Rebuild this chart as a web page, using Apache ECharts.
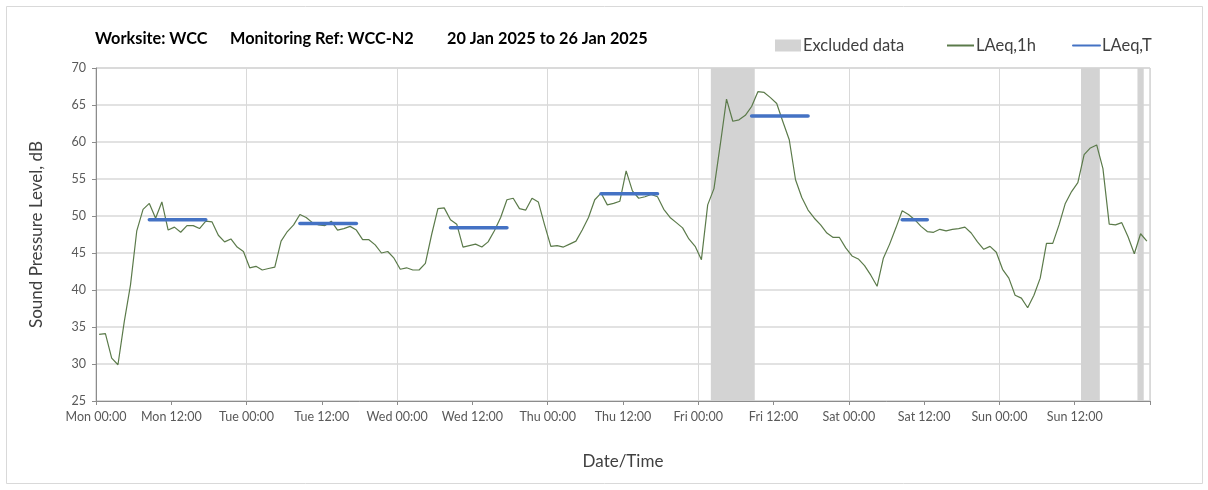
<!DOCTYPE html>
<html>
<head>
<meta charset="utf-8">
<script src="https://cdn.jsdelivr.net/npm/echarts@6/dist/echarts.min.js"></script>
<style>
html,body{margin:0;padding:0;background:#fff;}
#chart{width:1208px;height:490px;}
</style>
</head>
<body>
<div id="chart"></div>
<script>
// Tick labels every 12 hours (hour 0 .. 156)
const tickLabels = ['Mon 00:00','Mon 12:00','Tue 00:00','Tue 12:00','Wed 00:00','Wed 12:00',
  'Thu 00:00','Thu 12:00','Fri 00:00','Fri 12:00','Sat 00:00','Sat 12:00','Sun 00:00','Sun 12:00'];

// Title parts
const titleParts = ['Worksite: WCC', 'Monitoring Ref: WCC-N2', '20 Jan 2025 to 26 Jan 2025'];

// Hourly LAeq,1h values (hour 0 = Mon 00:00), plotted at the middle of each hour
const laeq1h = [
  34.0, 34.1, 30.8, 29.9, 35.7, 40.7, 48.0, 50.9, 51.7, 49.7, 51.9, 48.1, 48.5, 47.8, 48.7, 48.7, 48.3, 49.3, 49.2, 47.4, 46.5, 46.9, 45.8, 45.2, 43.0, 43.2, 42.7, 42.9,
  43.1, 46.6, 47.9, 48.8, 50.2, 49.8, 49.1, 48.8, 48.7, 49.3, 48.1, 48.3, 48.6, 48.1, 46.8, 46.8, 46.1, 45.0, 45.2, 44.3, 42.8, 43.0, 42.7, 42.7, 43.6, 47.5, 51.0, 51.1,
  49.5, 48.9, 45.8, 46.0, 46.2, 45.8, 46.5, 48.0, 49.8, 52.2, 52.4, 51.0, 50.8, 52.4, 51.9, 48.8, 45.9, 46.0, 45.8, 46.2, 46.6, 48.1, 49.8, 52.2, 53.1, 51.5, 51.7, 52.0,
  56.1, 53.4, 52.4, 52.6, 52.9, 52.6, 50.9, 49.8, 49.1, 48.4, 46.9, 45.9, 44.1, 51.5, 53.7, 59.6, 65.8, 62.8, 63.0, 63.6, 64.8, 66.8, 66.7, 66.0, 65.2, 62.7, 60.3, 54.9,
  52.5, 50.8, 49.7, 48.8, 47.7, 47.1, 47.1, 45.7, 44.6, 44.2, 43.3, 42.0, 40.5, 44.3, 46.2, 48.4, 50.7, 50.2, 49.5, 48.6, 47.9, 47.8, 48.2, 48.0, 48.2, 48.3, 48.5, 47.7,
  46.5, 45.5, 45.9, 45.1, 42.8, 41.6, 39.3, 38.9, 37.6, 39.3, 41.6, 46.3, 46.3, 48.8, 51.7, 53.3, 54.5, 58.3, 59.2, 59.6, 56.4, 48.9, 48.8, 49.1, 47.2, 44.9, 47.6, 46.6
];

// Excluded data periods [start hour, end hour]
const excludedStart = [98, 157, 166];
const excludedEnd   = [105, 160, 167];

// LAeq,T periods: start hour, end hour (hour centres), value
const laeqTStart = [8.5, 32.5, 56.5, 80.5, 104.5, 128.5];
const laeqTEnd   = [17.5, 41.5, 65.5, 89.5, 113.5, 132.5];
const laeqTValue = [49.5, 49.0, 48.4, 53.0, 63.5, 49.5];

const FONT = 'Lato';
const green = '#5b7a4a';
const blue = '#4472c4';
const shade = '#d3d3d3';

const chart = echarts.init(document.getElementById('chart'), null, {renderer: 'canvas'});

const series = [];
series.push({
  name: 'Excluded data',
  type: 'line',
  data: [],
  symbol: 'none',
  itemStyle: {color: shade},
  markArea: {
    silent: true,
    itemStyle: {color: shade},
    data: excludedStart.map((s, i) => [{xAxis: s}, {xAxis: excludedEnd[i]}])
  },
  z: 1
});
series.push({
  name: 'LAeq,1h',
  type: 'line',
  data: laeq1h.map((v, i) => [i + 0.5, v]),
  symbol: 'none',
  lineStyle: {color: green, width: 1.2},
  itemStyle: {color: green},
  z: 3
});
laeqTStart.forEach((s, i) => {
  series.push({
    name: 'LAeq,T',
    type: 'line',
    data: [[s, laeqTValue[i]], [laeqTEnd[i], laeqTValue[i]]],
    symbol: 'none',
    lineStyle: {color: blue, width: 3.5, cap: 'round'},
    itemStyle: {color: blue},
    z: 4
  });
});

const legendText = {fontFamily: FONT, fontSize: 16.5, color: '#404040', padding: [0, 0, 0, -3]};
const titleStyle = {fontFamily: FONT, fontSize: 16.3, fontWeight: 'bold', color: '#000000'};
const titleLefts = [90, 225, 442];

chart.setOption({
  animation: false,
  backgroundColor: '#ffffff',
  textStyle: {fontFamily: FONT},
  graphic: [{
    type: 'rect',
    shape: {x: 6.5, y: 6.5, width: 1196, height: 477},
    style: {fill: 'none', stroke: '#d9d9d9', lineWidth: 1},
    silent: true, z: -10
  }],
  title: titleParts.map((t, i) => ({text: t, left: titleLefts[i], top: 26, textStyle: titleStyle})),
  legend: [
    {left: 770, top: 32, itemWidth: 26, itemHeight: 12, textStyle: legendText,
     data: [{name: 'Excluded data', icon: 'rect', itemStyle: {color: shade}}]},
    {left: 941, top: 32, itemWidth: 27, itemHeight: 12, textStyle: legendText,
     data: [{name: 'LAeq,1h', itemStyle: {opacity: 0}}]},
    {left: 1067, top: 32, itemWidth: 27, itemHeight: 12, textStyle: legendText,
     data: [{name: 'LAeq,T', itemStyle: {opacity: 0}}]}
  ],
  grid: {left: 96, right: 58, top: 68, bottom: 89, show: true, borderColor: '#bfbfbf', borderWidth: 1},
  xAxis: {
    type: 'value', min: 0, max: 168, interval: 12,
    name: 'Date/Time', nameLocation: 'middle', nameGap: 52,
    nameTextStyle: {fontFamily: FONT, fontSize: 17, color: '#404040'},
    axisLine: {show: true, lineStyle: {color: '#8c8c8c'}},
    axisTick: {show: true, length: 4, lineStyle: {color: '#8c8c8c'}},
    axisLabel: {
      fontFamily: FONT, fontSize: 12.5, color: '#595959', margin: 9,
      formatter: v => tickLabels[Math.round(v / 12)] || ''
    },
    splitLine: {show: true, lineStyle: {color: ['#d9d9d9', 'rgba(0,0,0,0)'], width: 1}}
  },
  yAxis: {
    type: 'value', min: 25, max: 70, interval: 5,
    name: 'Sound Pressure Level, dB', nameLocation: 'middle', nameGap: 51,
    nameTextStyle: {fontFamily: FONT, fontSize: 17, color: '#404040'},
    axisLine: {show: true, lineStyle: {color: '#8c8c8c'}},
    axisTick: {show: true, length: 4, lineStyle: {color: '#8c8c8c'}},
    axisLabel: {fontFamily: FONT, fontSize: 12.5, color: '#595959', margin: 10},
    splitLine: {show: true, lineStyle: {color: '#d9d9d9', width: 1.5}}
  },
  series: series
});
</script>
</body>
</html>
